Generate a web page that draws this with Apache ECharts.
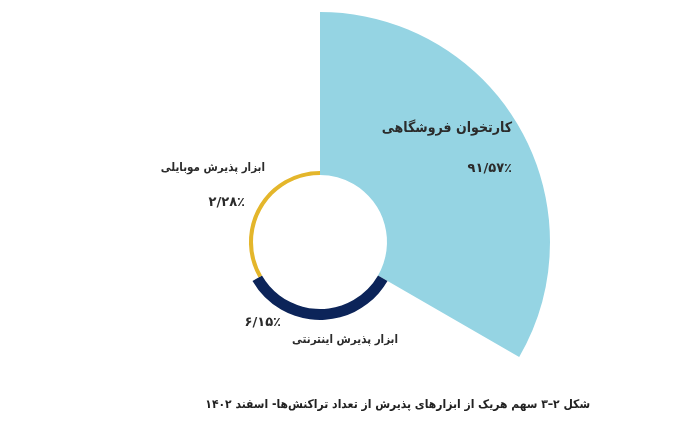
<!DOCTYPE html>
<html>
<head>
<meta charset="utf-8">
<script src="https://cdn.jsdelivr.net/npm/echarts@6/dist/echarts.min.js"></script>
<style>
html,body{margin:0;padding:0;background:#fff;}
#main{width:700px;height:435px;}
</style>
</head>
<body>
<div id="main"></div>
<script>
// Data
const categories = ['کارتخوان فروشگاهی', 'ابزار پذیرش اینترنتی', 'ابزار پذیرش موبایلی'];
const shares = [91.57, 6.15, 2.28];
const colors = ['#95D4E3', '#0C2459', '#E4B62B'];
const caption = 'شکل ۲–۳ سهم هریک از ابزارهای پذیرش از تعداد تراکنش‌ها- اسفند ۱۴۰۲';

const FA = '۰۱۲۳۴۵۶۷۸۹';
function fa(v) {
  return v.toFixed(2).replace(/\d/g, d => FA[+d]).replace('.', '/') + '٪';
}

const COND = '"DejaVu Sans Condensed", "DejaVu Sans", sans-serif';
const WIDE = '"DejaVu Sans", sans-serif';
const TXT = '#2b2b2b';

// label anchors (right-aligned text positions) and fonts
const labelPos = [
  { name: [512, 128], value: [512, 169], nameFont: 'bold 14px ' + COND, valueFont: 'bold 13px ' + WIDE },
  { name: [398, 340], value: [281, 323], nameFont: 'bold 11.5px ' + COND, valueFont: 'bold 13px ' + WIDE },
  { name: [265, 168], value: [245, 203], nameFont: 'bold 11.5px ' + COND, valueFont: 'bold 13px ' + WIDE }
];

const graphics = [];
categories.forEach((c, i) => {
  graphics.push({ type: 'text', z: 100, x: labelPos[i].name[0], y: labelPos[i].name[1],
    style: { text: c, align: 'right', verticalAlign: 'middle', font: labelPos[i].nameFont, fill: TXT } });
  graphics.push({ type: 'text', z: 100, x: labelPos[i].value[0], y: labelPos[i].value[1],
    style: { text: fa(shares[i]), align: 'right', verticalAlign: 'middle', font: labelPos[i].valueFont, fill: TXT } });
});
graphics.push({ type: 'text', z: 100, x: 590, y: 405,
  style: { text: caption, align: 'right', verticalAlign: 'middle', font: 'bold 12px ' + COND, fill: '#222' } });

const chart = echarts.init(document.getElementById('main'), null, { renderer: 'canvas' });
chart.setOption({
  animation: false,
  backgroundColor: '#fff',
  polar: { center: [320, 242], radius: [67, 230] },
  angleAxis: {
    type: 'category', data: categories, startAngle: 90, clockwise: true,
    axisLine: { show: false }, axisTick: { show: false }, axisLabel: { show: false },
    splitLine: { show: false }
  },
  radiusAxis: {
    type: 'value', min: 0, max: 'dataMax', show: false,
    axisLine: { show: false }, axisTick: { show: false }, axisLabel: { show: false },
    splitLine: { show: false }
  },
  series: [{
    type: 'bar', coordinateSystem: 'polar', barCategoryGap: '0%', z: 2,
    data: shares.map((v, i) => ({ value: v, itemStyle: { color: colors[i] } }))
  }],
  graphic: { elements: graphics }
});
</script>
</body>
</html>
